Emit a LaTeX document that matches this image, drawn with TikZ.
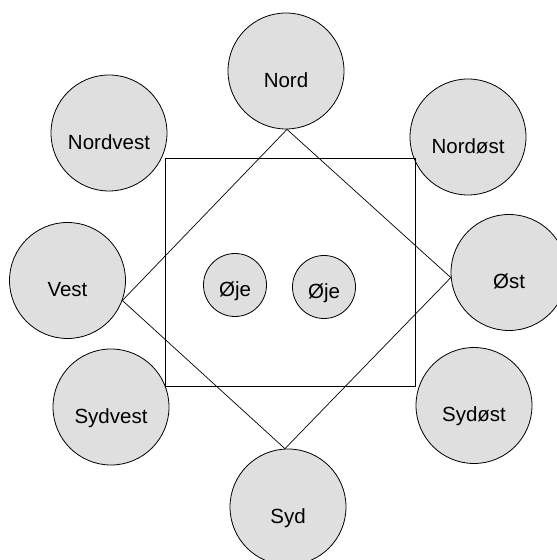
\documentclass[tikz,border=0pt]{standalone}
\usepackage{fontspec}
\setmainfont{Liberation Sans}
\usetikzlibrary{positioning}
\definecolor{discgray}{HTML}{DFDFDF}
\tikzset{
  compass/.style = {
    circle, draw, fill=discgray, line width=0.8pt,
    minimum size=116pt, inner sep=0pt,
    text height=33pt, text depth=0pt,
    font=\fontsize{20.5}{24}\selectfont
  },
  eye/.style = {
    compass, minimum size=63pt, text height=22.5pt
  }
}

\begin{document}
\begin{tikzpicture}[x=1pt, y=1pt]

    %% Face with eight directions

    \useasboundingbox (0,0) rectangle (557,560);
    \clip (0,0) rectangle (557,560);

    % Directions
    \node[compass] (nord)     at (286,489)   {Nord};
    \node[compass] (nordvest) at (109,427)   {Nordvest};
    \node[compass] (nordost)  at (468,423)   {Nordøst};
    \node[compass] (vest)     at (67.5,279.5) {Vest};
    \node[compass] (ost)      at (509,287.5) {Øst};
    \node[compass] (sydvest)  at (111,153)   {Sydvest};
    \node[compass] (sydost)   at (474,154.5) {Sydøst};
    \node[compass] (syd)      at (288,53)    {Syd};

    % Frame
    \draw[line width=1pt] (165.5,173.3) rectangle (415.6,401.7);

    % Diamond
    \draw[line width=0.7pt] (nord.-89) -- (ost.185) -- (syd.93) -- (vest.-20) -- cycle;

    % Eyes
    \node[eye] (ojevenstre) at (235,275) {Øje};
    \node[eye] (ojehojre)   at (324,273) {Øje};

\end{tikzpicture}
\end{document}
